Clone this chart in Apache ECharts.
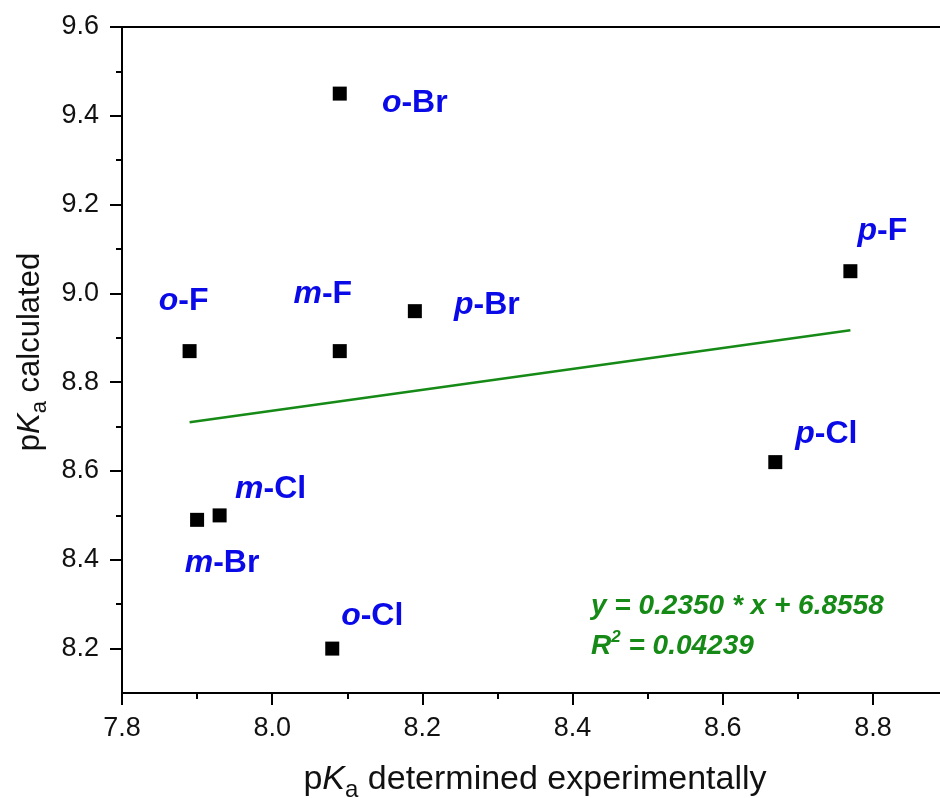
<!DOCTYPE html>
<html>
<head>
<meta charset="utf-8">
<script src="https://cdn.jsdelivr.net/npm/echarts@6/dist/echarts.min.js"></script>
<style>html,body{margin:0;padding:0;background:#fff}#c{width:940px;height:798px}</style>
</head>
<body>
<div id="c"></div>
<script>
// ---- data ----
const names = ['o-Br', 'p-F', 'o-F', 'm-F', 'p-Br', 'p-Cl', 'm-Cl', 'm-Br', 'o-Cl'];
const pKaExp = [8.09, 8.77, 7.89, 8.09, 8.19, 8.67, 7.93, 7.90, 8.08];
const pKaCalc = [9.45, 9.05, 8.87, 8.87, 8.96, 8.62, 8.50, 8.49, 8.20];
const fitSlope = 0.2350;
const fitIntercept = 6.8558;
const fitR2 = '0.04239';
const fitXRange = [7.89, 8.77];
const xTicks = [7.8, 8.0, 8.2, 8.4, 8.6, 8.8];
const xMinorTicks = [7.9, 8.1, 8.3, 8.5, 8.7];
const yTicks = [8.2, 8.4, 8.6, 8.8, 9.0, 9.2, 9.4, 9.6];
const yMinorTicks = [8.3, 8.5, 8.7, 8.9, 9.1, 9.3, 9.5];

// ---- styling / layout (not data) ----
const labelOffsets = {
  'o-Br': [75, 10], 'p-F': [32, -40], 'o-F': [-6, -50], 'm-F': [-17, -57],
  'p-Br': [72, -6], 'p-Cl': [51, -28], 'm-Cl': [51, -26], 'm-Br': [25, 43], 'o-Cl': [40, -32]
};
const FONT = '"Liberation Sans", Arial, sans-serif';
const BLUE = '#0a0ae8';
const GREEN = '#168a16';
const INK = '#111';

const chart = echarts.init(document.getElementById('c'), null, {renderer: 'canvas'});

const pointData = names.map((n, i) => ({
  value: [pKaExp[i], pKaCalc[i]],
  name: n,
  label: {offset: labelOffsets[n]}
}));

const fitData = fitXRange.map(x => [x, fitSlope * x + fitIntercept]);

const tickFmt = v => Number(v).toFixed(1);

function subTitleRich(f) {
  return {
    n: {fontSize: f, fontFamily: FONT, color: INK, lineHeight: f},
    k: {fontSize: f, fontFamily: FONT, color: INK, fontStyle: 'italic', lineHeight: f},
    s: {fontSize: Math.round(f * 0.7), fontFamily: FONT, color: INK, lineHeight: Math.round(f * 0.7), padding: [Math.round(f * 0.62), 0, 0, 0]}
  };
}

const option = {
  animation: false,
  backgroundColor: '#fff',
  grid: {left: 122, top: 27, right: -8, bottom: 105, show: true, borderColor: '#000', borderWidth: 2,
         containLabel: false, outerBoundsMode: 'none'},
  xAxis: [{
    type: 'value', position: 'bottom', min: 7.8, max: 8.9,
    name: '{n|p}{k|K}{s|a}{n| determined experimentally}',
    nameLocation: 'middle', nameGap: 70,
    nameTextStyle: {rich: subTitleRich(34)},
    axisLine: {show: true, onZero: false, lineStyle: {color: '#000', width: 2}},
    axisTick: {show: true, length: 12, lineStyle: {color: '#000', width: 2}, customValues: xTicks},
    axisLabel: {show: true, margin: 22, fontSize: 27, fontFamily: FONT, color: INK, customValues: xTicks, formatter: tickFmt},
    splitLine: {show: false}
  }, {
    type: 'value', position: 'bottom', min: 7.8, max: 8.9,
    axisLine: {show: false},
    axisTick: {show: true, length: 6, lineStyle: {color: '#000', width: 2}, customValues: xMinorTicks},
    axisLabel: {show: false},
    splitLine: {show: false}
  }],
  yAxis: [{
    type: 'value', position: 'left', min: 8.1, max: 9.6,
    name: '{n|p}{k|K}{s|a}{n| calculated}',
    nameLocation: 'middle', nameGap: 71, nameRotate: 90,
    nameTextStyle: {rich: subTitleRich(31), padding: [0, 0, 0, 16]},
    axisLine: {show: true, onZero: false, lineStyle: {color: '#000', width: 2}},
    axisTick: {show: true, length: 12, lineStyle: {color: '#000', width: 2}, customValues: yTicks},
    axisLabel: {show: true, margin: 23, fontSize: 27, fontFamily: FONT, color: INK, customValues: yTicks, formatter: tickFmt},
    splitLine: {show: false}
  }, {
    type: 'value', position: 'left', min: 8.1, max: 9.6,
    axisLine: {show: false},
    axisTick: {show: true, length: 6, lineStyle: {color: '#000', width: 2}, customValues: yMinorTicks},
    axisLabel: {show: false},
    splitLine: {show: false}
  }],
  series: [{
    type: 'line',
    xAxisIndex: 0, yAxisIndex: 0,
    data: fitData,
    showSymbol: false,
    symbol: 'none',
    lineStyle: {color: GREEN, width: 2.5, opacity: 1},
    z: 2
  }, {
    type: 'scatter',
    xAxisIndex: 0, yAxisIndex: 0,
    data: pointData,
    symbol: 'rect',
    symbolSize: 14,
    itemStyle: {color: '#000', opacity: 1},
    z: 3,
    label: {
      show: true,
      position: 'inside',
      align: 'center',
      verticalAlign: 'middle',
      opacity: 1,
      formatter: p => {
        const parts = p.name.split('-');
        return '{i|' + parts[0] + '}{r|-' + parts[1] + '}';
      },
      rich: {
        i: {fontSize: 32, fontWeight: 'bold', fontStyle: 'italic', fontFamily: FONT, color: BLUE},
        r: {fontSize: 32, fontWeight: 'bold', fontFamily: FONT, color: BLUE}
      }
    },
    emphasis: {disabled: true}
  }],
  graphic: [{
    type: 'text', left: 591, top: 592, z: 10,
    style: {
      text: 'y = ' + fitSlope.toFixed(4) + ' * x + ' + fitIntercept.toFixed(4),
      font: 'italic bold 28px ' + FONT,
      fill: GREEN
    }
  }, {
    type: 'text', left: 591, top: 629, z: 10,
    style: {
      text: '{a|R}{b|2}{a| = ' + fitR2 + '}',
      fill: GREEN,
      rich: {
        a: {font: 'italic bold 28px ' + FONT, fill: GREEN, lineHeight: 31, verticalAlign: 'bottom'},
        b: {font: 'italic bold 17px ' + FONT, fill: GREEN, lineHeight: 17, verticalAlign: 'top'}
      }
    }
  }]
};

chart.setOption(option);
</script>
</body>
</html>
